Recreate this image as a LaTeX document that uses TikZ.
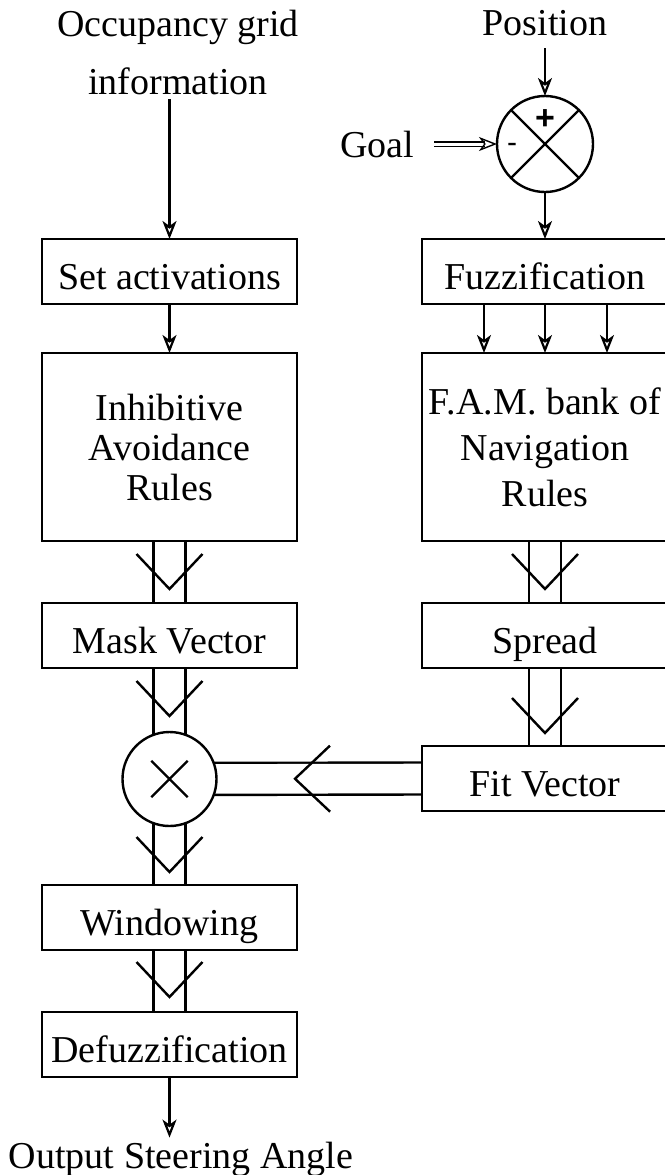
\documentclass[tikz,border=0pt]{standalone}
\usepackage{fontspec}
\setmainfont{Liberation Serif}
\setsansfont{Liberation Sans}
\usetikzlibrary{arrows.meta,positioning,shapes.misc,backgrounds,decorations.markings}
\definecolor{ink}{RGB}{0,0,0}
\tikzset{
  every picture/.style={color=ink, line width=1.2pt, font=\fontsize{19}{22}\selectfont},
  box/.style={draw=ink, fill=white, inner sep=3pt, outer sep=0pt, align=center},
  onerow/.style={minimum height=32.5pt, text height=17.5pt, text depth=0pt},
  leftbox/.style={box, minimum width=127.5pt},
  rightbox/.style={box, minimum width=123pt},
  bigbox/.style={minimum height=94pt},
  junction/.style={circle, draw=ink, fill=white, inner sep=0pt, outer sep=0pt},
  lbl/.style={inner sep=0pt, outer sep=0pt, align=center},
  sign/.style={font=\sffamily\bfseries\fontsize{17}{17}\selectfont, inner sep=0pt},
  flow/.style={-{Stealth[open, length=9pt, width=7pt, inset=2.5pt]}, line width=1.1pt},
  channel/.style={line width=17.2pt, postaction={draw=white, line width=14.8pt},
    decoration={markings, mark=at position #1 with {\draw[line width=1.2pt, ink] (-35,33) -- (0,0) -- (-35,-33);}},
    postaction={decorate}},
}

\begin{document}
\begin{tikzpicture}[x=0.5pt, y=-0.5pt]
  \useasboundingbox (0,0) rectangle (665,1175);
  % avoidance side
  \node[leftbox, onerow] (set) at (169.5,271.5) {Set activations};
  \node[leftbox, bigbox, below=24.5pt of set, font=\fontsize{19}{20}\selectfont] (inhib) {Inhibitive\\Avoidance\\Rules};
  \node[leftbox, onerow, below=31pt of inhib] (mask) {Mask Vector};
  \node[junction, minimum size=47pt, below=32pt of mask] (mul) {};
  \node[draw=ink, cross out, minimum size=17pt, inner sep=0pt] (mulx) at (mul) {};
  \node[leftbox, onerow, below=29.5pt of mul] (wind) {Windowing};
  \node[leftbox, onerow, below=31pt of wind] (defz) {Defuzzification};
  % navigation side
  \node[rightbox, onerow, right=62.5pt of set] (fuzz) {Fuzzification};
  \node[rightbox, bigbox, below=24.5pt of fuzz, font=\fontsize{19}{23}\selectfont] (fam) {F.A.M. bank of\\Navigation\\Rules};
  \node[rightbox, onerow, below=31pt of fam] (spread) {Spread};
  \node[rightbox, onerow, below=39pt of spread] (fit) {Fit Vector};
  \node[junction, minimum size=48pt, above=23.5pt of fuzz] (sum) {};
  \draw (sum.north west) -- (sum.south east) (sum.north east) -- (sum.south west);
  \node[sign] (plus) at ([yshift=12pt]sum.center) {+};
  \node[sign, font=\sffamily\fontsize{15}{15}\selectfont] (minus) at ([xshift=-16.5pt, yshift=-2pt]sum.center) {-};
  % inputs and output
  \node[lbl, inner ysep=2pt, anchor=south, font=\fontsize{19}{29}\selectfont] (occ) at (178,99) {Occupancy grid\\information};
  \node[lbl, inner sep=6pt, above=24pt of sum] (pos) {Position};
  \node[lbl, inner xsep=10pt, left=31.5pt of sum] (goal) {Goal};
  \node[lbl, inner sep=2pt, anchor=base] (out) at (181,1168) {Output Steering Angle};
  % thin arrows
  \draw[flow] (occ.south -| set.north) -- (set.north);
  \draw[flow] (set.south) -- (inhib.north);
  \draw[flow] (pos.south) -- (sum.north);
  \draw[flow, double, double distance=1.5pt, line width=0.7pt] (goal.east) -- (sum.west);
  \draw[flow] (sum.south) -- (fuzz.north);
  \foreach \dx in {-30.5,0,31}
    \draw[flow] ([xshift=\dx*1pt]fuzz.south) -- ([xshift=\dx*1pt]fam.north);
  \draw[flow] (defz.south) -- (defz.south |- out.north);
  % wide vector arrows
  \begin{scope}[on background layer]
    \draw[channel=24pt] (inhib.south) -- (mask.north);
    \draw[channel=24pt] (mask.south) -- (mul.center);
    \draw[channel=46.5pt] (mul.center) -- (wind.north);
    \draw[channel=23.5pt] (wind.south) -- (defz.north);
    \draw[channel=24pt] (fam.south) -- (spread.north);
    \draw[channel=32.5pt] (spread.south) -- (fit.north);
    \draw[channel=63.5pt] (fit.west) -- (mul.center);
  \end{scope}
\end{tikzpicture}
\end{document}
